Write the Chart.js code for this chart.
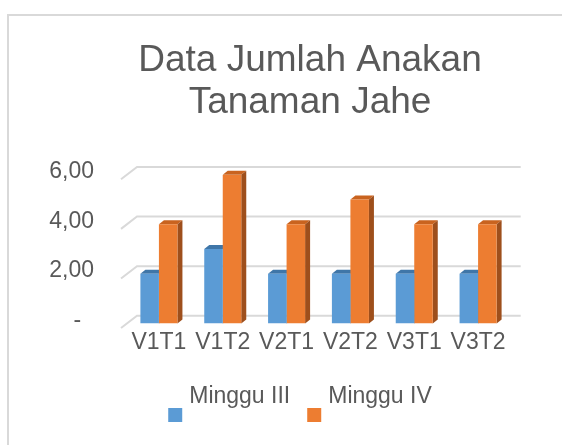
<!DOCTYPE html>
<html>
<head>
<meta charset="utf-8">
<script src="https://cdn.jsdelivr.net/npm/chart.js@4.4.1/dist/chart.umd.min.js"></script>
<style>
  html, body { margin: 0; padding: 0; background: #fff; overflow: hidden; }
  #frame {
    position: absolute; left: 7px; top: 14px; width: 600px; height: 460px;
    border-left: 2px solid #d9d9d9; border-top: 2px solid #d9d9d9;
  }
  #wrap { position: relative; width: 553px; height: 429px; }
</style>
</head>
<body>
<div id="frame"><div id="wrap"><canvas id="chart"></canvas></div></div>
<script>
/* ---- data ---- */
const categories = ["V1T1", "V1T2", "V2T1", "V2T2", "V3T1", "V3T2"];
const mingguIII = [2, 3, 2, 2, 2, 2];
const mingguIV = [4, 6, 4, 5, 4, 4];
const seriesNames = ["Minggu III", "Minggu IV"];
const titleLines = ["Data Jumlah Anakan", "Tanaman Jahe"];
const yMin = 0, yMax = 6, yStep = 2;

const FONT = "'Liberation Sans', Arial, sans-serif";
const TEXT = "#595959";
const GRID = "#d9d9d9";

/* fake 3D: top / side faces of each column + the floor-wall gridlines */
const DX = 5, DY = 4;
const columns3d = {
    id: "columns3d",
    beforeDatasetsDraw(chart) {
        const { ctx, chartArea: a, scales: { y } } = chart;
        ctx.save();
        ctx.strokeStyle = GRID;
        ctx.lineWidth = 2;
        y.ticks.forEach(t => {
            const yb = y.getPixelForValue(t.value) - 7.7;
            ctx.beginPath();
            ctx.moveTo(a.left - 6, yb + 12.3);
            ctx.lineTo(a.left + 10, yb);
            ctx.lineTo(a.right + 10.7, yb);
            ctx.stroke();
        });
        chart.data.datasets.forEach((ds, i) => {
            chart.getDatasetMeta(i).data.forEach(bar => {
                const l = bar.x - bar.width / 2, r = bar.x + bar.width / 2;
                ctx.fillStyle = ds.topColor;
                ctx.beginPath();
                ctx.moveTo(l, bar.y); ctx.lineTo(l + DX, bar.y - DY);
                ctx.lineTo(r + DX, bar.y - DY); ctx.lineTo(r, bar.y);
                ctx.closePath(); ctx.fill();
                ctx.fillStyle = ds.sideColor;
                ctx.beginPath();
                ctx.moveTo(r, bar.y); ctx.lineTo(r + DX, bar.y - DY);
                ctx.lineTo(r + DX, bar.base - DY); ctx.lineTo(r, bar.base);
                ctx.closePath(); ctx.fill();
            });
        });
        ctx.restore();
    }
};

/* Excel-style title, centred on the (cropped) original chart */
const excelTitle = {
    id: "excelTitle",
    afterDraw(chart) {
        const ctx = chart.ctx;
        ctx.save();
        ctx.font = "37px " + FONT;
        ctx.fillStyle = TEXT;
        ctx.textAlign = "center";
        ctx.textBaseline = "alphabetic";
        titleLines.forEach((line, i) => ctx.fillText(line, 301, 55 + i * 42));
        ctx.restore();
    }
};

/* Excel legend: square sits below the label baseline */
const excelLegend = {
    id: "excelLegend",
    afterDraw(chart) {
        const ctx = chart.ctx;
        ctx.save();
        ctx.font = "23px " + FONT;
        ctx.textBaseline = "alphabetic";
        const items = chart.data.datasets.map(ds => ({
            label: ds.label, color: ds.backgroundColor, w: ctx.measureText(ds.label).width
        }));
        const total = items.reduce((s, it) => s + 21 + it.w, 0) + 17 * (items.length - 1);
        let x = 291 - total / 2;
        items.forEach(it => {
            ctx.fillStyle = it.color;
            ctx.fillRect(x, 392, 14, 14);
            ctx.fillStyle = TEXT;
            ctx.fillText(it.label, x + 21, 387);
            x += 21 + it.w + 17;
        });
        ctx.restore();
    }
};

new Chart(document.getElementById("chart"), {
    type: "bar",
    data: {
        labels: categories,
        datasets: [
            { label: seriesNames[0], data: mingguIII, backgroundColor: "#5b9bd5",
              topColor: "#3f76a8", sideColor: "#3f76a8" },
            { label: seriesNames[1], data: mingguIV, backgroundColor: "#ed7d31",
              topColor: "#c9631f", sideColor: "#9e4f1c" }
        ]
    },
    options: {
        responsive: true, maintainAspectRatio: false,
        animation: false,
        layout: { padding: { top: 158.7, left: 0, right: 52, bottom: 84 } },
        datasets: { bar: { categoryPercentage: 0.58, barPercentage: 1.0 } },
        plugins: {
            legend: { display: false },
            title: { display: false },
            tooltip: { enabled: false }
        },
        scales: {
            x: {
                grid: { display: false, drawTicks: false },
                border: { display: false },
                ticks: { color: TEXT, padding: 5, font: { family: FONT, size: 23 } }
            },
            y: {
                min: yMin, max: yMax,
                grid: { display: false, drawTicks: false },
                border: { display: false },
                ticks: {
                    stepSize: yStep, color: TEXT, padding: 33, labelOffset: -3,
                    font: { family: FONT, size: 23 },
                    callback: v => v === 0 ? "-  " : v.toFixed(2).replace(".", ",")
                },
                afterFit(scale) { scale.width = 118; }
            }
        }
    },
    plugins: [columns3d, excelTitle, excelLegend]
});
</script>
</body>
</html>
